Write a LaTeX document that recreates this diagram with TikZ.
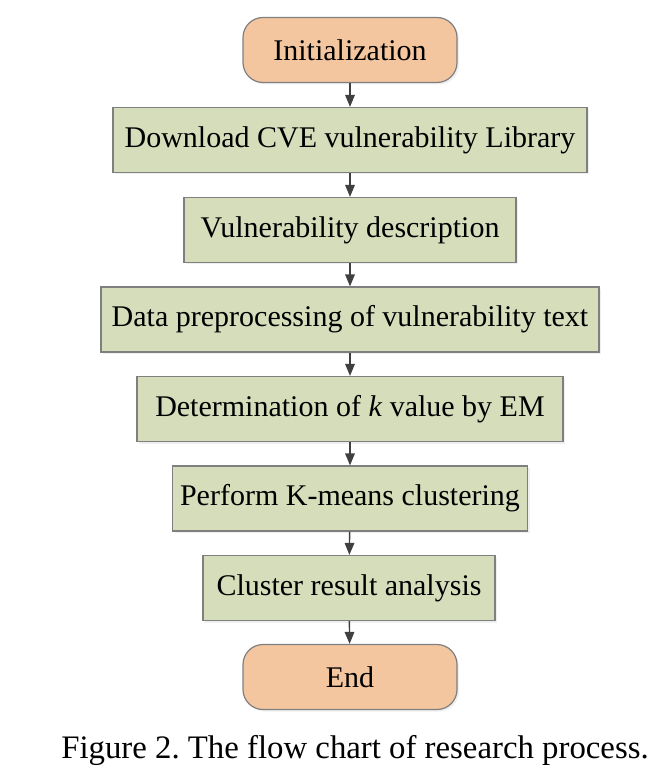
\documentclass[tikz,border=0pt]{standalone}
\usepackage{fontspec}
\setmainfont{Liberation Serif}
\usepackage{tikz}
\usetikzlibrary{arrows.meta,shadows}

\definecolor{termfill}{HTML}{F3C6A0}
\definecolor{stepfill}{HTML}{D5DDBB}
\definecolor{edgegray}{HTML}{7F7F7F}
\definecolor{arrowgray}{HTML}{404040}

\tikzset{
	base/.style={draw=edgegray, line width=0.6pt, align=center,
		font=\fontsize{15}{17}\selectfont,
		drop shadow={shadow xshift=1pt, shadow yshift=-1pt, fill=black!12}},
	termbox/.style={base, rounded corners=10pt, fill=termfill,
		minimum width=107pt, minimum height=32.5pt},
	stepbox/.style={base, fill=stepfill, minimum height=32.5pt},
	flow/.style={->, arrowgray, line width=0.7pt}
}

\begin{document}
\frenchspacing
\begin{tikzpicture}[x=0.5pt, y=-0.5pt, >={Triangle[length=6pt, width=4.8pt]}]
	\useasboundingbox (0,0) rectangle (662,780);
	\node[termbox] (init) at (350,50) {Initialization};
	\node[stepbox, minimum width=237pt] (download) at (350,140) {Download CVE vulnerability Library};
	\node[stepbox, minimum width=166pt] (desc) at (350,230) {Vulnerability description};
	\node[stepbox, minimum width=249pt] (prep) at (350,319.5) {Data preprocessing of vulnerability text};
	\node[stepbox, minimum width=213pt] (kval) at (350,409) {Determination of \textit{k} value by EM};
	\node[stepbox, minimum width=177.5pt] (kmeans) at (350,498.5) {Perform K-means clustering};
	\node[stepbox, minimum width=146pt] (result) at (349,588) {Cluster result analysis};
	\node[termbox] (end) at (350,677) {End};
	\node[font=\fontsize{16.4}{18}\selectfont] (caption) at (355,750) {Figure 2. The flow chart of research process.};
	% connectors
	\draw[flow] (init) -- (download);
	\draw[flow] (download) -- (desc);
	\draw[flow] (desc) -- (prep);
	\draw[flow] (prep) -- (kval);
	\draw[flow] (kval) -- (kmeans);
	\draw[flow] (kmeans) -- (result);
	\draw[flow] (result) -- (end);
\end{tikzpicture}
\end{document}
